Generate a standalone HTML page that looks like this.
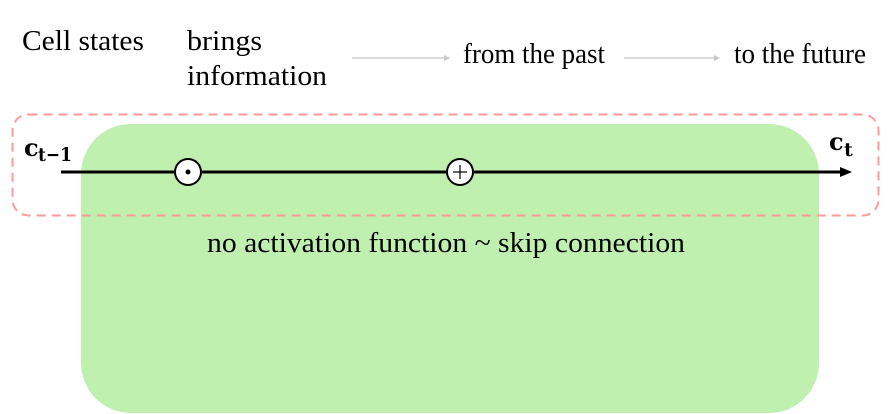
<!DOCTYPE html>
<html><head><style>
html,body{margin:0;padding:0;background:#fff;overflow:hidden;}
body{width:893px;height:414px;overflow:hidden;position:relative;}
svg{display:block;}
</style></head><body>
<svg width="893" height="414" xmlns="http://www.w3.org/2000/svg" style="position:absolute;left:0;top:0">
<rect x="81" y="124" width="738" height="289" rx="50" fill="#c0f0b0"/>
<rect x="12.5" y="114.5" width="866" height="101" rx="16" fill="none" stroke="#ff9a9a" stroke-width="2" stroke-dasharray="9,6"/>
<g font-family="Liberation Serif, serif" font-size="28" fill="#000">
<text x="22" y="50" textLength="122" lengthAdjust="spacingAndGlyphs">Cell states</text>
<text x="187" y="50" textLength="75" lengthAdjust="spacingAndGlyphs">brings</text>
<text x="187" y="85" textLength="140" lengthAdjust="spacingAndGlyphs">information</text>
<text x="463" y="63" textLength="142" lengthAdjust="spacingAndGlyphs">from the past</text>
<text x="734" y="63" textLength="132" lengthAdjust="spacingAndGlyphs">to the future</text>
<text x="207" y="252" textLength="478" lengthAdjust="spacingAndGlyphs">no activation function ~ skip connection</text>
</g>
<g stroke="#d0d0d0" stroke-width="1.5"><line x1="352" y1="58" x2="444" y2="58"/><line x1="624" y1="58" x2="714" y2="58"/></g>
<polygon points="444,55 450,58 444,61" fill="#c8c8c8"/>
<polygon points="714,55 720,58 714,61" fill="#c8c8c8"/>
<line x1="61" y1="172" x2="842" y2="172" stroke="#000" stroke-width="3"/>
<polygon points="840,167 852,172 840,177" fill="#000"/>
<circle cx="188" cy="172" r="13" fill="#fff" stroke="#000" stroke-width="2"/>
<circle cx="188" cy="172" r="2.5" fill="#000"/>
<circle cx="460" cy="172" r="13" fill="#fff" stroke="#000" stroke-width="2"/>
<line x1="453" y1="172" x2="467" y2="172" stroke="#000" stroke-width="1.2"/>
<line x1="460" y1="165" x2="460" y2="179" stroke="#000" stroke-width="1.2"/>
<g font-family="DejaVu Serif, serif" fill="#000" font-weight="bold">
<text x="24" y="156" font-size="24">c</text><text x="38" y="161" font-size="19" textLength="34" lengthAdjust="spacingAndGlyphs">t−1</text>
<text x="829" y="150" font-size="24">c</text><text x="844" y="156" font-size="19">t</text>
</g>
</svg>
</body></html>
